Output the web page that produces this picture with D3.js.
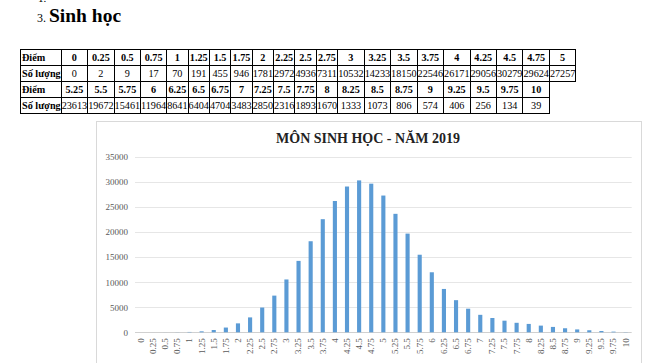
<!DOCTYPE html>
<html>
<head>
<meta charset="utf-8">
<script src="https://cdn.jsdelivr.net/npm/d3@7"></script>
<style>
  body { margin: 0; background: #fff; width: 645px; height: 363px; overflow: hidden; position: relative; font-family: "Liberation Serif", "Times New Roman", serif; }
  .head { position: absolute; font-family: "Liberation Serif", serif; }
  table.scores { position: absolute; left: 20px; top: 49px; border-collapse: collapse; font-family: "Liberation Serif", serif; font-size: 10.2px; }
  table.scores td { border: 1.2px solid #000; padding: 0; height: 15px; text-align: center; line-height: 14px; white-space: nowrap; }
  table.scores td.lbl { text-align: left; font-weight: bold; padding-left: 1px; }
  table.scores tr.hdr td { font-weight: bold; }
  svg { position: absolute; left: 0; top: 0; }
</style>
</head>
<body>
<div class="head" style="left:38px;top:-8px;font-size:11px;">1.</div>
<div class="head" style="left:37px;top:11px;font-size:12px;">3.</div>
<div class="head" style="left:49px;top:5px;font-size:19.5px;font-weight:bold;">Sinh học</div>
<div id="table"></div>
<div id="chart"></div>
<script>
const scores = ["0","0.25","0.5","0.75","1","1.25","1.5","1.75","2","2.25","2.5","2.75","3","3.25","3.5","3.75","4","4.25","4.5","4.75","5",
  "5.25","5.5","5.75","6","6.25","6.5","6.75","7","7.25","7.5","7.75","8","8.25","8.5","8.75","9","9.25","9.5","9.75","10"];
const counts = [0,2,9,17,70,191,455,946,1781,2972,4936,7311,10532,14233,18150,22546,26171,29056,30279,29624,27257,
  23613,19672,15461,11964,8641,6404,4704,3483,2850,2316,1893,1670,1333,1073,806,574,406,256,134,39];
const yTicks = [0,5000,10000,15000,20000,25000,30000,35000];
const chartTitle = "MÔN SINH HỌC - NĂM 2019";

// table: two halves, shared column widths
const half = 21;
const rows = [
  {label: "Điểm", cls: "hdr", vals: scores.slice(0, half)},
  {label: "Số lượng", cls: "num", vals: counts.slice(0, half)},
  {label: "Điểm", cls: "hdr", vals: scores.slice(half)},
  {label: "Số lượng", cls: "num", vals: counts.slice(half)}
];
const table = d3.select("#table").append("table").attr("class", "scores");
const tr = table.selectAll("tr").data(rows).join("tr").attr("class", d => d.cls);
tr.append("td").attr("class", "lbl").text(d => d.label);
tr.selectAll("td.v").data(d => d.vals).join("td").attr("class", "v").text(d => d);

// chart
const width = 645, height = 363;
const svg = d3.select("#chart").append("svg").attr("width", width).attr("height", height);

svg.append("rect")
  .attr("x", 96.5).attr("y", 121.5).attr("width", 545).attr("height", 260)
  .attr("fill", "#fff").attr("stroke", "#d9d9d9");

const x = d3.scaleBand().domain(scores).range([135, 631.7]).paddingInner(0.66).paddingOuter(0.33);
const y = d3.scaleLinear().domain([0, 35000]).range([332.3, 156.7]);

const grid = svg.append("g");
grid.selectAll("line").data(yTicks).join("line")
  .attr("x1", 135).attr("x2", 631.7)
  .attr("y1", d => Math.round(y(d)) + 0.5).attr("y2", d => Math.round(y(d)) + 0.5)
  .attr("stroke", d => d === 0 ? "#d0d0d0" : "#e6e6e6");

const yAxis = svg.append("g").attr("transform", "translate(128,0)")
  .call(d3.axisLeft(y).tickValues(yTicks).tickSize(0).tickPadding(0).tickFormat(d3.format("d")));
yAxis.select(".domain").remove();
yAxis.selectAll("text").attr("fill", "#595959").style("font-family", "Liberation Serif, serif").style("font-size", "9px");

svg.append("g").selectAll("rect").data(counts).join("rect")
  .attr("x", (d, i) => x(scores[i]))
  .attr("width", x.bandwidth())
  .attr("y", d => y(d))
  .attr("height", d => y(0) - y(d))
  .attr("fill", "#5b9bd5");

const xAxis = svg.append("g").attr("transform", `translate(0,${y(0)})`)
  .call(d3.axisBottom(x).tickSize(0).tickPadding(0));
xAxis.select(".domain").remove();
xAxis.selectAll("text")
  .attr("fill", "#595959")
  .style("font-family", "Liberation Serif, serif").style("font-size", "9px")
  .attr("transform", "rotate(-90)")
  .attr("text-anchor", "end")
  .attr("dy", "0.32em")
  .attr("x", -6).attr("y", 0);

svg.append("text")
  .attr("x", 368).attr("y", 143)
  .attr("text-anchor", "middle")
  .style("font-family", "Liberation Serif, serif").style("font-size", "14px").style("font-weight", "bold")
  .attr("fill", "#222")
  .text(chartTitle);
</script>
</body>
</html>
